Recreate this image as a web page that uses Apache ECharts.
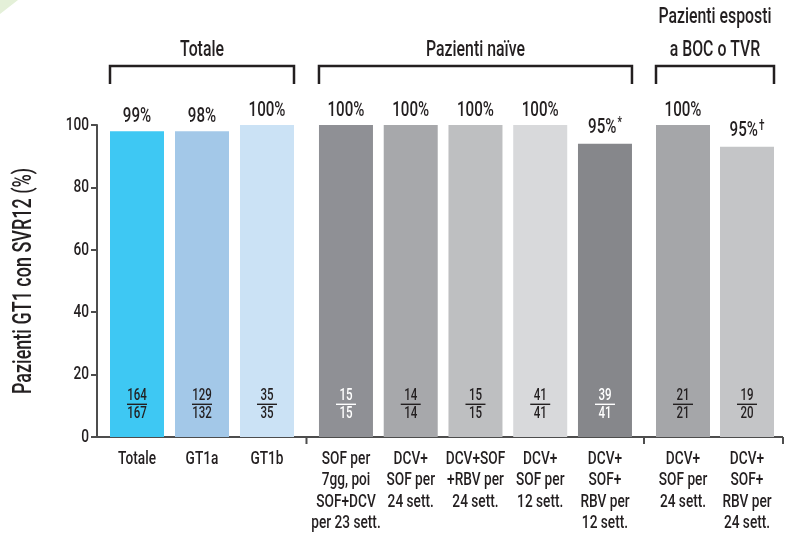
<!DOCTYPE html>
<html>
<head>
<meta charset="utf-8">
<script src="https://cdn.jsdelivr.net/npm/echarts@6/dist/echarts.min.js"></script>
<style>
    html, body { margin: 0; padding: 0; background: #fff; }
    #chart { width: 785px; height: 542px; }
</style>
</head>
<body>
<div id="chart"></div>
<script>
const groupTitles = ['Totale', 'Pazienti naïve', 'Pazienti esposti\na BOC o TVR'];
const categories = [
    ['Totale', 'GT1a', 'GT1b'],
    ['SOF per\n7gg, poi\nSOF+DCV\nper 23 sett.', 'DCV+\nSOF per\n24 sett.', 'DCV+SOF\n+RBV per\n24 sett.', 'DCV+\nSOF per\n12 sett.', 'DCV+\nSOF+\nRBV per\n12 sett.'],
    ['DCV+\nSOF per\n24 sett.', 'DCV+\nSOF+\nRBV per\n24 sett.']
];
const svrValues = [[98, 98, 100], [100, 100, 100, 100, 94], [100, 93]];
const pctLabels = [['99%', '98%', '100%'], ['100%', '100%', '100%', '100%', '95%*'], ['100%', '95%†']];
const achieved = [[164, 129, 35], [15, 14, 15, 41, 39], [21, 19]];
const treated = [[167, 132, 35], [15, 14, 15, 41, 41], [21, 20]];
const yMin = 0, yMax = 100, yStep = 20;

// styles
const barColors = [
    ['#3ec8f3', '#a3c8e8', '#cbe2f5'],
    ['#8f9095', '#a7a8ab', '#bebfc1', '#d8d9db', '#86878b'],
    ['#a5a6a9', '#c4c5c7']
];
const fracColors = [
    ['#231f20', '#231f20', '#231f20'],
    ['#ffffff', '#231f20', '#231f20', '#231f20', '#ffffff'],
    ['#231f20', '#231f20']
];
const FONT = 'Roboto, sans-serif';
const WEIGHT = 500;
const INK = '#231f20';
const AXIS = '#4d4d4d';
const BAR_W = 54;
const grids = [
    { left: 104.5, width: 195, top: 125, bottom: 105 },
    { left: 313.6, width: 323.75, top: 125, bottom: 105 },
    { left: 651, width: 128, top: 125, bottom: 105 }
];

// no condensed font is installed: squeeze all canvas text horizontally
const SQUEEZE = 0.72;
const proto = CanvasRenderingContext2D.prototype;
const rawFill = proto.fillText;
const rawMeasure = proto.measureText;
proto.fillText = function (text, x, y, maxWidth) {
    this.save();
    this.translate(x, y);
    this.scale(SQUEEZE, 1);
    if (maxWidth === undefined) rawFill.call(this, text, 0, 0);
    else rawFill.call(this, text, 0, 0, maxWidth / SQUEEZE);
    this.restore();
};
proto.measureText = function (text) {
    const m = rawMeasure.call(this, text);
    return {
        width: m.width * SQUEEZE,
        actualBoundingBoxLeft: m.actualBoundingBoxLeft * SQUEEZE,
        actualBoundingBoxRight: m.actualBoundingBoxRight * SQUEEZE,
        actualBoundingBoxAscent: m.actualBoundingBoxAscent,
        actualBoundingBoxDescent: m.actualBoundingBoxDescent,
        fontBoundingBoxAscent: m.fontBoundingBoxAscent,
        fontBoundingBoxDescent: m.fontBoundingBoxDescent
    };
};

const chart = echarts.init(document.getElementById('chart'), null, { renderer: 'canvas' });

const xAxes = categories.map((cats, g) => ({
    type: 'category',
    gridIndex: g,
    data: cats,
    axisLine: { show: false },
    axisTick: { show: false },
    axisLabel: {
        interval: 0,
        margin: 11,
        fontFamily: FONT,
        fontWeight: WEIGHT,
        fontSize: 19,
        lineHeight: 21.5,
        color: INK
    }
}));

const yAxes = categories.map((cats, g) => ({
    type: 'value',
    gridIndex: g,
    min: yMin,
    max: yMax,
    interval: yStep,
    show: g === 0,
    offset: 7.5,
    name: g === 0 ? 'Pazienti GT1 con SVR12 (%)' : '',
    nameLocation: 'middle',
    nameRotate: 90,
    nameGap: 63,
    nameTextStyle: { fontFamily: FONT, fontWeight: WEIGHT, fontSize: 25, color: INK },
    axisLine: { show: true, lineStyle: { color: AXIS, width: 2 } },
    axisTick: { show: true, length: 6, lineStyle: { color: AXIS, width: 2 } },
    splitLine: { show: false },
    axisLabel: { margin: 8, fontFamily: FONT, fontWeight: WEIGHT, fontSize: 19, color: INK }
}));

const series = [];
categories.forEach((cats, g) => {
    series.push({
        type: 'bar',
        xAxisIndex: g,
        yAxisIndex: g,
        barWidth: BAR_W,
        barGap: '-100%',
        data: svrValues[g].map((v, i) => ({ value: v, itemStyle: { color: barColors[g][i] } })),
        label: {
            show: true,
            position: 'top',
            distance: 7,
            fontFamily: FONT,
            fontWeight: WEIGHT,
            fontSize: 21,
            color: INK,
            formatter: p => {
                const t = pctLabels[g][p.dataIndex];
                const m = t.match(/^(\d+%)(.*)$/);
                return m[2] ? '{v|' + m[1] + '}{s|' + m[2] + '}' : t;
            },
            rich: {
                v: { fontFamily: FONT, fontWeight: WEIGHT, fontSize: 21, color: INK },
                s: { fontFamily: FONT, fontWeight: WEIGHT, fontSize: 14, color: INK, padding: [0, 0, 8, 1] }
            }
        }
    });
    series.push({
        type: 'bar',
        xAxisIndex: g,
        yAxisIndex: g,
        barWidth: BAR_W,
        barGap: '-100%',
        silent: true,
        itemStyle: { color: 'transparent' },
        data: svrValues[g].map((v, i) => ({
            value: v,
            label: {
                rich: {
                    n: { color: fracColors[g][i], fontFamily: FONT, fontWeight: WEIGHT, fontSize: 16, lineHeight: 15, align: 'center' },
                    l: { backgroundColor: fracColors[g][i], width: 20, height: 1.4, align: 'center' },
                    d: { color: fracColors[g][i], fontFamily: FONT, fontWeight: WEIGHT, fontSize: 16, lineHeight: 17, align: 'center' }
                }
            }
        })),
        label: {
            show: true,
            position: 'insideBottom',
            distance: 15,
            formatter: p => '{n|' + achieved[g][p.dataIndex] + '}\n{l|}\n{d|' + treated[g][p.dataIndex] + '}'
        }
    });
});

chart.setOption({
    animation: false,
    textStyle: { fontFamily: FONT },
    grid: grids,
    xAxis: xAxes,
    yAxis: yAxes,
    series: series
});

// brackets, group titles and the split base line, placed from the axes
const half = BAR_W / 2;
const baseY = chart.convertToPixel({ yAxisIndex: 0 }, 0);
const yAxisX = grids[0].left - 7.5;
const spans = categories.map((cats, g) => [
    chart.convertToPixel({ xAxisIndex: g }, 0) - half,
    chart.convertToPixel({ xAxisIndex: g }, cats.length - 1) + half
]);
const graphic = [
    {
        type: 'polygon',
        shape: { points: [[0, 0], [18, 0], [0, 14]] },
        style: { fill: '#e4f0d8' },
        silent: true
    }
];
const breaks = [];
spans.forEach((s, g) => {
    graphic.push({
        type: 'polyline',
        shape: { points: [[s[0], 84], [s[0], 66], [s[1], 66], [s[1], 84]] },
        style: { stroke: INK, lineWidth: 2.5, fill: null },
        silent: true
    });
    graphic.push({
        type: 'text',
        x: (s[0] + s[1]) / 2,
        y: 66.5,
        style: {
            text: groupTitles[g],
            fontFamily: FONT,
            fontWeight: WEIGHT,
            fontSize: 22,
            lineHeight: 33,
            fill: INK,
            align: 'center',
            verticalAlign: 'bottom'
        },
        silent: true
    });
    if (g < spans.length - 1) breaks.push((s[1] + spans[g + 1][0]) / 2);
});
const endX = spans[spans.length - 1][1] + 9;
breaks.push(endX);
graphic.push({
    type: 'line',
    shape: { x1: yAxisX - 1, y1: baseY, x2: endX, y2: baseY },
    style: { stroke: AXIS, lineWidth: 2 },
    silent: true
});
breaks.forEach(x => {
    graphic.push({
        type: 'line',
        shape: { x1: x, y1: baseY, x2: x, y2: baseY + 7 },
        style: { stroke: AXIS, lineWidth: 2 },
        silent: true
    });
});
chart.setOption({ graphic: graphic });
</script>
</body>
</html>
